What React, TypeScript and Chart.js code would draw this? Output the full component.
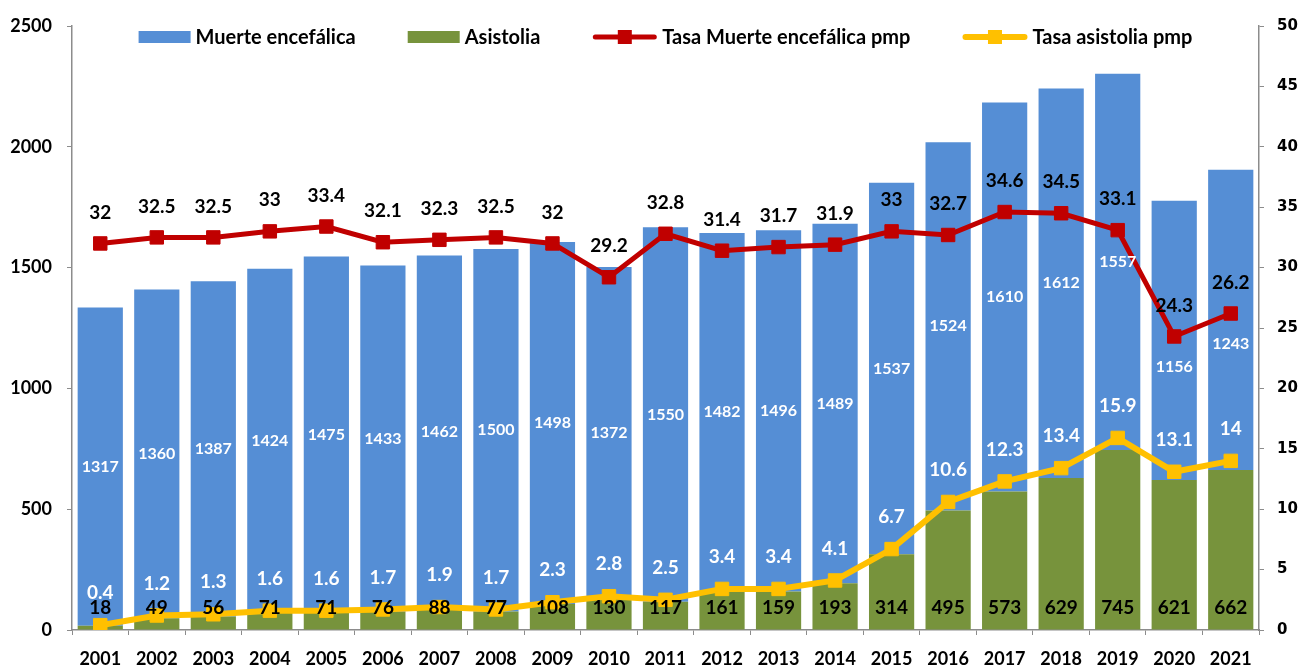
import React, { useEffect, useRef } from 'react';
import { Chart, registerables } from 'chart.js';

Chart.register(...registerables);

const years = ['2001', '2002', '2003', '2004', '2005', '2006', '2007', '2008', '2009', '2010', '2011', '2012', '2013', '2014', '2015', '2016', '2017', '2018', '2019', '2020', '2021'];
const muerteEncefalica = [1317, 1360, 1387, 1424, 1475, 1433, 1462, 1500, 1498, 1372, 1550, 1482, 1496, 1489, 1537, 1524, 1610, 1612, 1557, 1156, 1243];
const asistolia = [18, 49, 56, 71, 71, 76, 88, 77, 108, 130, 117, 161, 159, 193, 314, 495, 573, 629, 745, 621, 662];
const tasaMuerteEncefalica = [32, 32.5, 32.5, 33, 33.4, 32.1, 32.3, 32.5, 32, 29.2, 32.8, 31.4, 31.7, 31.9, 33, 32.7, 34.6, 34.5, 33.1, 24.3, 26.2];
const tasaAsistolia = [0.4, 1.2, 1.3, 1.6, 1.6, 1.7, 1.9, 1.7, 2.3, 2.8, 2.5, 3.4, 3.4, 4.1, 6.7, 10.6, 12.3, 13.4, 15.9, 13.1, 14];

const seriesNames = ['Muerte encefálica', 'Asistolia', 'Tasa Muerte encefálica pmp', 'Tasa asistolia pmp'];

const BLUE = '#558ED5';
const GREEN = '#77933C';
const RED = '#C00000';
const YELLOW = '#FFC000';
const AXIS = '#8C8C8C';

const LABEL_FONT = 'Lato, "Open Sans", sans-serif';

const dataLabelPlugin = {
  id: 'dataLabelPlugin',
  afterDatasetsDraw(chart: any) {
    const ctx = chart.ctx;
    ctx.save();
    ctx.textAlign = 'center';
    ctx.textBaseline = 'middle';
    const yBase = chart.scales.y.getPixelForValue(0);

    const metaTM = chart.getDatasetMeta(0);
    const metaTA = chart.getDatasetMeta(1);
    const metaA = chart.getDatasetMeta(2);
    const metaM = chart.getDatasetMeta(3);

    // Asistolia bars (inside base)
    ctx.font = `bold 19px ${LABEL_FONT}`;
    ctx.fillStyle = '#000';
    metaA.data.forEach((el: any, i: number) => {
      ctx.fillText(String(asistolia[i]), el.x, yBase - 22);
    });

    // Muerte encefálica bars (centered, moved below the rate marker if they collide)
    ctx.font = `bold 16px ${LABEL_FONT}`;
    ctx.fillStyle = '#fff';
    metaM.data.forEach((el: any, i: number) => {
      let y = (el.y + el.base) / 2;
      const py = metaTM.data[i].y;
      if (Math.abs(y - py) < 18) y = py + 30;
      ctx.fillText(String(muerteEncefalica[i]), el.x, y);
    });

    // Tasa ME line labels (above)
    ctx.font = `bold 19px ${LABEL_FONT}`;
    ctx.fillStyle = '#000';
    metaTM.data.forEach((el: any, i: number) => {
      ctx.fillText(String(tasaMuerteEncefalica[i]), el.x, el.y - 31);
    });

    // Tasa asistolia line labels (above)
    ctx.fillStyle = '#fff';
    metaTA.data.forEach((el: any, i: number) => {
      ctx.fillText(String(tasaAsistolia[i]), el.x, el.y - 32);
    });
    ctx.restore();
  },
};

const legendPlugin = {
  id: 'customLegend',
  afterDraw(chart: any) {
    const ctx = chart.ctx;
    const area = chart.chartArea;
    ctx.save();
    ctx.font = `bold 20px ${LABEL_FONT}`;
    ctx.textBaseline = 'middle';
    ctx.textAlign = 'left';
    const items = [
      { text: seriesNames[0], kind: 'bar', color: BLUE, sw: 52, lw: 0 },
      { text: seriesNames[1], kind: 'bar', color: GREEN, sw: 52, lw: 0 },
      { text: seriesNames[2], kind: 'line', color: RED, sw: 65, lw: 5 },
      { text: seriesNames[3], kind: 'line', color: YELLOW, sw: 65, lw: 6 },
    ];
    const textGap = 5;
    const itemGap = 52;
    let total = 0;
    items.forEach((it, i) => {
      total += it.sw + textGap + ctx.measureText(it.text).width + (i < items.length - 1 ? itemGap : 0);
    });
    let x = (area.left + area.right) / 2 - total / 2;
    const y = 37;
    items.forEach((it) => {
      if (it.kind === 'bar') {
        ctx.fillStyle = it.color;
        ctx.fillRect(x, y - 6, it.sw, 12);
      } else {
        ctx.strokeStyle = it.color;
        ctx.lineWidth = it.lw;
        ctx.lineCap = 'round';
        ctx.beginPath();
        ctx.moveTo(x + 3, y);
        ctx.lineTo(x + it.sw - 3, y);
        ctx.stroke();
        ctx.fillStyle = it.color;
        ctx.fillRect(x + it.sw / 2 - 7, y - 7, 14, 14);
      }
      x += it.sw + textGap;
      ctx.fillStyle = '#000';
      ctx.fillText(it.text, x, y + 1);
      x += ctx.measureText(it.text).width + itemGap;
    });
    ctx.restore();
  },
};

export default function App() {
  const canvasRef = useRef<HTMLCanvasElement | null>(null);

  useEffect(() => {
    if (!canvasRef.current) return;
    const chart = new Chart(canvasRef.current, {
      type: 'bar',
      data: {
        labels: years,
        datasets: [
          {
            type: 'line',
            label: seriesNames[2],
            data: tasaMuerteEncefalica,
            yAxisID: 'y1',
            borderColor: RED,
            backgroundColor: RED,
            borderWidth: 5,
            pointStyle: 'rect',
            pointRadius: 9.5,
            pointBorderWidth: 1,
            pointBackgroundColor: RED,
            pointBorderColor: RED,
            tension: 0,
            order: 0,
          } as any,
          {
            type: 'line',
            label: seriesNames[3],
            data: tasaAsistolia,
            yAxisID: 'y1',
            borderColor: YELLOW,
            backgroundColor: YELLOW,
            borderWidth: 6,
            pointStyle: 'rect',
            pointRadius: 9.5,
            pointBorderWidth: 1,
            pointBackgroundColor: YELLOW,
            pointBorderColor: YELLOW,
            tension: 0,
            order: 0,
          } as any,
          {
            type: 'bar',
            label: seriesNames[1],
            data: asistolia,
            yAxisID: 'y',
            backgroundColor: GREEN,
            borderWidth: 0,
            barPercentage: 0.8,
            categoryPercentage: 1,
            order: 1,
          } as any,
          {
            type: 'bar',
            label: seriesNames[0],
            data: muerteEncefalica,
            yAxisID: 'y',
            backgroundColor: BLUE,
            borderWidth: 0,
            barPercentage: 0.8,
            categoryPercentage: 1,
            order: 2,
          } as any,
        ],
      },
      options: {
        animation: false,
        responsive: true,
        maintainAspectRatio: false,
        events: [],
        layout: { padding: { top: 26, left: 0, right: 0, bottom: 0 } },
        plugins: {
          legend: { display: false },
          tooltip: { enabled: false },
          title: { display: false },
        },
        scales: {
          x: {
            stacked: true,
            offset: true,
            grid: { display: true, drawOnChartArea: false, drawTicks: true, tickLength: 5, color: AXIS, offset: true },
            border: { display: true, color: AXIS, width: 1.5 },
            ticks: {
              color: '#000',
              font: { family: LABEL_FONT, weight: 'bold', size: 18 },
              padding: 13,
              maxRotation: 0,
              autoSkip: false,
            },
            afterFit: (s: any) => { s.height = 38; },
          },
          y: {
            stacked: true,
            position: 'left',
            min: 0,
            max: 2500,
            grid: { display: true, drawOnChartArea: false, drawTicks: true, tickLength: 5, color: AXIS },
            border: { display: true, color: AXIS, width: 1.5 },
            ticks: {
              stepSize: 500,
              color: '#000',
              font: { family: LABEL_FONT, weight: 'bold', size: 18 },
              padding: 15,
              callback: (v: any) => String(v),
            },
            afterFit: (s: any) => { s.width = 72; },
          },
          y1: {
            position: 'right',
            min: 0,
            max: 50,
            grid: { display: true, drawOnChartArea: false, drawTicks: true, tickLength: 5, color: AXIS },
            border: { display: true, color: AXIS, width: 1.5 },
            ticks: {
              stepSize: 5,
              color: '#000',
              font: { family: '"DejaVu Sans", Verdana, sans-serif', weight: 'bold', size: 15 },
              padding: 13,
              callback: (v: any) => String(v),
            },
            afterFit: (s: any) => { s.width = 46; },
          },
        },
      } as any,
      plugins: [dataLabelPlugin, legendPlugin],
    });
    return () => chart.destroy();
  }, []);

  return (
    <div style={{ position: 'fixed', left: 0, top: 0, width: 1305, height: 668, background: '#fff' }}>
      <canvas ref={canvasRef} />
    </div>
  );
}
